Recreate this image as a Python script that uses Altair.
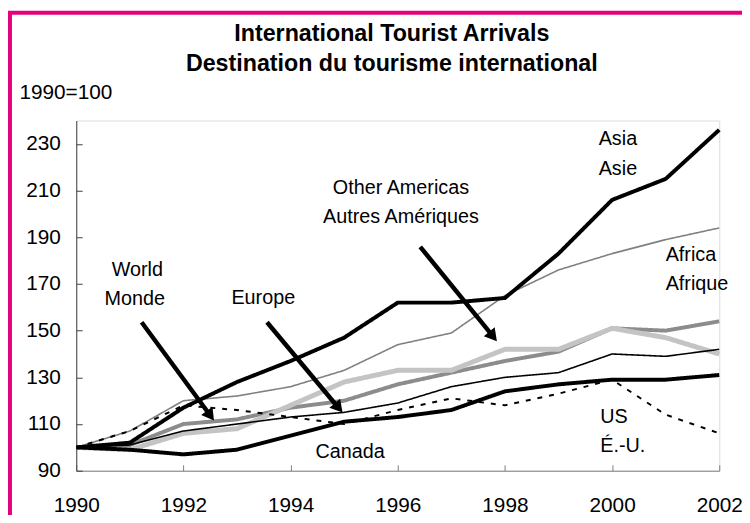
import math
import altair as alt
import pandas as pd

# ---------------- data ----------------
years = list(range(1990, 2003))
asia = [100, 102, 117, 128, 137, 147, 162, 162, 164, 183, 206, 215, 236]
africa = [100, 107, 120, 122, 126, 133, 144, 149, 165, 176, 183, 189, 194]
other_americas = [100, 99, 106, 108, 118, 128, 133, 133, 142, 142, 151, 147, 140]
europe = [100, 101, 110, 112, 117, 120, 127, 132, 137, 141, 151, 150, 154]
world = [100, 101, 107, 110, 113, 115, 119, 126, 130, 132, 140, 139, 142]
canada = [100, 99, 97, 99, 105, 111, 113, 116, 124, 127, 129, 129, 131]
us = [100, 107, 118, 116, 113, 110, 116, 121, 118, 123, 129, 114, 106]

x_ticks = [1990, 1992, 1994, 1996, 1998, 2000, 2002]
y_ticks = [90, 110, 130, 150, 170, 190, 210, 230]

# series drawn bottom -> top: name, values, colour, width, dash
series = [
    ("Africa", africa, "#808080", 1.6, [1, 0]),
    ("Europe", europe, "#8c8c8c", 4.0, [1, 0]),
    ("Other Americas", other_americas, "#c4c4c4", 5.0, [1, 0]),
    ("World", world, "#000000", 1.6, [1, 0]),
    ("US", us, "#000000", 2.0, [5, 7]),
    ("Canada", canada, "#000000", 4.0, [1, 0]),
    ("Asia", asia, "#000000", 4.0, [1, 0]),
]

# annotation labels (in data units)
center_text = ["World", "Monde", "Europe", "Other Americas", "Autres Amériques", "Canada"]
center_x = [1991.14, 1991.09, 1993.49, 1996.06, 1996.06, 1995.11]
center_y = [176.1, 163.4, 163.8, 210.9, 198.6, 98.0]
left_text = ["Asia", "Asie", "Africa", "Afrique", "US", "É.-U."]
left_x = [1999.75, 1999.75, 2001.0, 2001.0, 1999.78, 1999.78]
left_y = [232.1, 219.4, 182.5, 169.8, 113.0, 100.5]

# arrows (data units)
arrow_start_x = [1991.22, 1993.56, 1996.42]
arrow_start_y = [153.6, 153.6, 185.9]
arrow_tip_x = [1992.58, 1994.98, 1997.86]
arrow_tip_y = [111.2, 114.6, 145.2]

# ---------------- layout ----------------
W, H = 650, 354
X_DOM = [1990, 2002]
Y_DOM = [90, 240]
px_x = W / (X_DOM[1] - X_DOM[0])
px_y = H / (Y_DOM[1] - Y_DOM[0])
FONT = "Liberation Sans"
PINK = "#E5007E"

xs = alt.Scale(domain=X_DOM, nice=False, zero=False)
ys = alt.Scale(domain=Y_DOM, nice=False, zero=False)


def xenc():
    return alt.X(
        "x:Q",
        scale=xs,
        axis=alt.Axis(
            values=x_ticks,
            format="d",
            title=None,
            grid=False,
            domainColor="#808080",
            tickColor="#808080",
            tickSize={"expr": "-6"},
            labelPadding=30,
            labelFlush=False,
            labelFont=FONT,
            labelFontSize=21,
            labelColor="black",
        ),
    )


def yenc():
    return alt.Y(
        "y:Q",
        scale=ys,
        axis=alt.Axis(
            values=y_ticks,
            title="1990=100",
            titleAngle=0,
            titleX=-58,
            titleY=-28,
            titleAlign="left",
            titleBaseline="middle",
            titleFont=FONT,
            titleFontSize=21,
            titleFontWeight="normal",
            titleColor="black",
            grid=False,
            domainColor="#404040",
            tickColor="#404040",
            tickSize={"expr": "-6"},
            labelPadding=22,
            labelFont=FONT,
            labelFontSize=21,
            labelColor="black",
        ),
    )


layers = []

# pink frame
layers.append(
    alt.Chart(alt.Data(values=[{}]))
    .mark_rect(fillOpacity=0, stroke=PINK, strokeWidth=4)
    .encode(
        x=alt.value(-69 + 2),
        y=alt.value(-111 + 2),
        x2=alt.value(W + 200),
        y2=alt.value(H + 200),
    )
)

for name, vals, col, sw, dash in series:
    df = pd.DataFrame({"x": years, "y": vals})
    layers.append(
        alt.Chart(df)
        .mark_line(color=col, strokeWidth=sw, strokeDash=dash)
        .encode(x=xenc(), y=yenc())
    )

# arrows
shaft_rows, head_rows = [], []
for i in range(len(arrow_start_x)):
    dx = (arrow_tip_x[i] - arrow_start_x[i]) * px_x
    dy = (arrow_tip_y[i] - arrow_start_y[i]) * px_y
    L = math.hypot(dx, dy)
    ux, uy = dx / L, dy / L
    shaft_rows.append({"id": i, "o": 0, "x": arrow_start_x[i], "y": arrow_start_y[i]})
    shaft_rows.append({"id": i, "o": 1,
                       "x": arrow_tip_x[i] - ux * 10 / px_x,
                       "y": arrow_tip_y[i] - uy * 10 / px_y})
    ang = math.degrees(math.atan2(dx, dy))  # clockwise from up (screen)
    head_rows.append({"x": arrow_tip_x[i] - ux * 7 / px_x,
                      "y": arrow_tip_y[i] - uy * 7 / px_y,
                      "a": ang % 360})

layers.append(
    alt.Chart(pd.DataFrame(shaft_rows))
    .mark_line(color="black", strokeWidth=4.5)
    .encode(x=xenc(), y=yenc(), detail="id:N", order="o:Q")
)
layers.append(
    alt.Chart(pd.DataFrame(head_rows))
    .mark_point(shape="triangle-up", filled=True, color="black", opacity=1, size=200)
    .encode(x=xenc(), y=yenc(), angle=alt.Angle("a:Q", scale=None))
)

# labels
layers.append(
    alt.Chart(pd.DataFrame({"x": center_x, "y": center_y, "t": center_text}))
    .mark_text(font=FONT, fontSize=20, align="center", baseline="middle", color="black")
    .encode(x=xenc(), y=yenc(), text="t:N")
)
layers.append(
    alt.Chart(pd.DataFrame({"x": left_x, "y": left_y, "t": left_text}))
    .mark_text(font=FONT, fontSize=20, align="left", baseline="middle", color="black")
    .encode(x=xenc(), y=yenc(), text="t:N")
)

chart = (
    alt.layer(*layers)
    .properties(
        width=W,
        height=H,
        autosize=alt.AutoSizeParams(type="none"),
        padding={"left": 69, "top": 111, "right": 23, "bottom": 42},
        title=alt.TitleParams(
            text=["International Tourist Arrivals", "Destination du tourisme international"],
            font=FONT,
            fontSize=23.5,
            fontWeight="bold",
            color="black",
            lineHeight=30,
            anchor="middle",
            dx=-6,
            dy=75,
            offset=10,
        ),
    )
    .configure_view(stroke=None)
    .configure(background="white")
)

chart.save("out.html", embed_options={"renderer": "svg", "actions": False})
